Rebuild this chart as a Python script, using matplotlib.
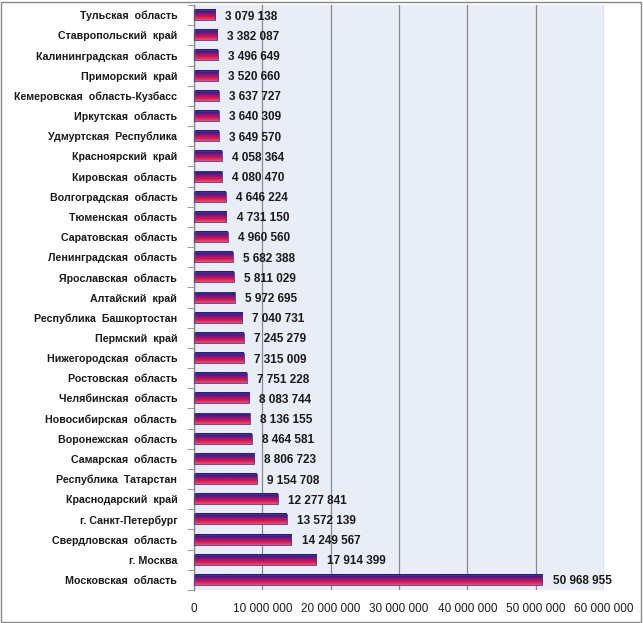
import numpy as np
import matplotlib
matplotlib.use("Agg")
import matplotlib.pyplot as plt
from matplotlib.colors import LinearSegmentedColormap

regions = [
    "Тульская  область", "Ставропольский  край", "Калининградская  область",
    "Приморский  край", "Кемеровская  область-Кузбасс", "Иркутская  область",
    "Удмуртская  Республика", "Красноярский  край", "Кировская  область",
    "Волгоградская  область", "Тюменская  область", "Саратовская  область",
    "Ленинградская  область", "Ярославская  область", "Алтайский  край",
    "Республика  Башкортостан", "Пермский  край", "Нижегородская  область",
    "Ростовская  область", "Челябинская  область", "Новосибирская  область",
    "Воронежская  область", "Самарская  область", "Республика  Татарстан",
    "Краснодарский  край", "г. Санкт-Петербург", "Свердловская  область",
    "г. Москва", "Московская  область",
]
values = [
    3079138, 3382087, 3496649, 3520660, 3637727, 3640309, 3649570,
    4058364, 4080470, 4646224, 4731150, 4960560, 5682388, 5811029,
    5972695, 7040731, 7245279, 7315009, 7751228, 8083744, 8136155,
    8464581, 8806723, 9154708, 12277841, 13572139, 14249567, 17914399,
    50968955,
]
xticks = [0, 10_000_000, 20_000_000, 30_000_000, 40_000_000, 50_000_000, 60_000_000]


def fmt(v):
    return f"{v:,}".replace(",", " ")


plt.rcParams["font.family"] = ["Liberation Sans", "DejaVu Sans"]

fig = plt.figure(figsize=(6.43, 6.23), dpi=100)
W, H = 643, 623
ax = fig.add_axes([194 / W, 1 - 590 / H, (604 - 194) / W, (590 - 5) / H])
ax.set_facecolor("#E9EDF6")

# outer chart border
fig.patches.append(plt.Rectangle((1 / W, 1 / H), (W - 3) / W, (H - 3) / H,
                                 transform=fig.transFigure, fill=False,
                                 edgecolor="#888888", lw=1.0))

n = len(regions)
ypos = np.arange(n)
bh = 0.5
cmap = LinearSegmentedColormap.from_list(
    "bar", ["#1c1c8a", "#4a1c8c", "#a0146a", "#e01a4c", "#ff4a6e"])
grad = np.linspace(0, 1, 64).reshape(-1, 1)

bars = ax.barh(ypos, values, height=bh, color="none", edgecolor="#3a3a9a",
               lw=0.6, zorder=3)
for b, v, y in zip(bars, values, ypos):
    ax.imshow(grad, cmap=cmap, aspect="auto", zorder=2,
              extent=(0, v, y + bh / 2, y - bh / 2), interpolation="bilinear")
    ax.text(v + 1_500_000, y, fmt(v), va="center_baseline", ha="left",
            fontsize=8.5, fontweight="bold", color="#1a1a1a", zorder=4)

ax.set_xlim(0, 60_000_000)
ax.set_ylim(n - 0.5, -0.5)

ax.set_xticks(xticks)
ax.set_xticklabels([fmt(x) for x in xticks], fontsize=8.5, color="#1a1a1a")
ax.tick_params(axis="x", length=0, pad=9)
ax.xaxis.grid(True, color="#8a8a8a", lw=0.9, zorder=1)
ax.set_axisbelow(True)

ax.set_yticks(ypos)
ax.set_yticklabels(regions, fontsize=7.7, fontweight="bold", color="#1a1a1a",
                   va="center_baseline")
ax.set_yticks(np.arange(-0.5, n, 1), minor=True)
ax.tick_params(axis="y", which="major", length=0, pad=12)
ax.tick_params(axis="y", which="minor", length=5, color="#8a8a8a", direction="out")

for s in ["top", "right", "bottom"]:
    ax.spines[s].set_visible(False)
ax.spines["left"].set_color("#8a8a8a")
ax.spines["left"].set_linewidth(1.0)

fig.savefig("out.png", dpi=100)
